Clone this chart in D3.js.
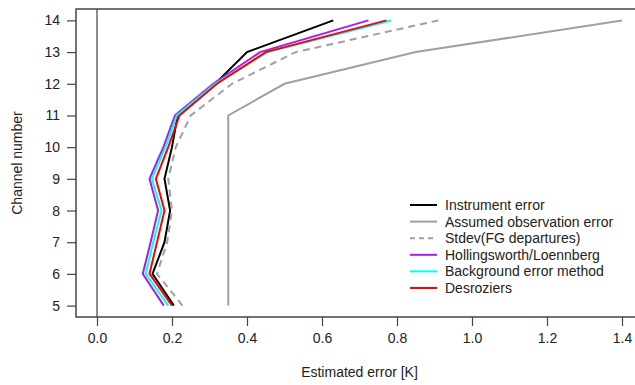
<!DOCTYPE html>
<html>
<head>
<meta charset="utf-8">
<script src="https://cdn.jsdelivr.net/npm/d3@7"></script>
<style>
  body { margin: 0; background: #fff; }
  svg text { font-family: "Liberation Sans", Arial, Helvetica, sans-serif; fill: #222; }
</style>
</head>
<body>
<svg id="chart"></svg>
<script>
// channel numbers (y) and estimated errors in K (x)
const channels = [5, 6, 7, 8, 9, 10, 11, 12, 13, 14];
const instrumentError = [0.205, 0.148, 0.18, 0.195, 0.18, 0.20, 0.215, 0.315, 0.40, 0.63];
const assumedObsError = [0.35, 0.35, 0.35, 0.35, 0.35, 0.35, 0.35, 0.50, 0.85, 1.40];
const stdevFG = [0.228, 0.16, 0.187, 0.20, 0.19, 0.21, 0.25, 0.36, 0.53, 0.91];
const hollingsworth = [0.178, 0.122, 0.143, 0.163, 0.14, 0.177, 0.208, 0.31, 0.435, 0.724];
const backgroundMethod = [0.19, 0.13, 0.15, 0.172, 0.146, 0.183, 0.213, 0.315, 0.455, 0.784];
const desroziers = [0.20, 0.14, 0.16, 0.18, 0.157, 0.19, 0.22, 0.32, 0.45, 0.772];

const xTicks = [0, 0.2, 0.4, 0.6, 0.8, 1.0, 1.2, 1.4];
const yTicks = [5, 6, 7, 8, 9, 10, 11, 12, 13, 14];

const series = [
  { name: "Instrument error", values: instrumentError, color: "#000000", dash: null },
  { name: "Assumed observation error", values: assumedObsError, color: "#a0a0a0", dash: null },
  { name: "Stdev(FG departures)", values: stdevFG, color: "#a0a0a0", dash: "7,5" },
  { name: "Hollingsworth/Loennberg", values: hollingsworth, color: "#a020f0", dash: null },
  { name: "Background error method", values: backgroundMethod, color: "#00ffff", dash: null },
  { name: "Desroziers", values: desroziers, color: "#ff0000", dash: null }
];

const width = 635, height = 385;
const plot = { left: 76, top: 9, right: 643, bottom: 317 };

const svg = d3.select("#chart")
  .attr("width", width)
  .attr("height", height);

// R style 4% axis extension
const xScale = d3.scaleLinear()
  .domain([-0.056, 1.456])
  .range([plot.left, plot.right]);

const yScale = d3.scaleLinear()
  .domain([4.64, 14.36])
  .range([plot.bottom, plot.top]);

// vertical line at zero
svg.append("line")
  .attr("x1", xScale(0)).attr("x2", xScale(0))
  .attr("y1", plot.top).attr("y2", plot.bottom)
  .attr("stroke", "#666")
  .attr("stroke-width", 1.5);

const line = d3.line()
  .x(d => xScale(d.v))
  .y(d => yScale(d.c));

series.forEach(s => {
  const pts = channels.map((c, i) => ({ c: c, v: s.values[i] }));
  svg.append("path")
    .datum(pts)
    .attr("fill", "none")
    .attr("stroke", s.color)
    .attr("stroke-width", 2)
    .attr("stroke-dasharray", s.dash)
    .attr("d", line);
});

// box
svg.append("rect")
  .attr("x", plot.left)
  .attr("y", plot.top)
  .attr("width", plot.right - plot.left)
  .attr("height", plot.bottom - plot.top)
  .attr("fill", "none")
  .attr("stroke", "#444")
  .attr("stroke-width", 1.5);

// x axis
const xAxis = svg.append("g")
  .attr("transform", `translate(0,${plot.bottom})`)
  .call(d3.axisBottom(xScale).tickValues(xTicks).tickFormat(d3.format(".1f")).tickSize(9).tickPadding(7));
xAxis.select(".domain").remove();
xAxis.selectAll("line").attr("stroke", "#444").attr("stroke-width", 1.2);
xAxis.selectAll("text").style("font-size", "14px").attr("fill", "#222");

// y axis
const yAxis = svg.append("g")
  .attr("transform", `translate(${plot.left},0)`)
  .call(d3.axisLeft(yScale).tickValues(yTicks).tickSize(9).tickPadding(7));
yAxis.select(".domain").remove();
yAxis.selectAll("line").attr("stroke", "#444").attr("stroke-width", 1.2);
yAxis.selectAll("text").style("font-size", "14px").attr("fill", "#222");

// axis titles
svg.append("text")
  .attr("x", (plot.left + plot.right) / 2)
  .attr("y", 377)
  .attr("text-anchor", "middle")
  .style("font-size", "14px")
  .text("Estimated error [K]");

svg.append("text")
  .attr("transform", `translate(22,${(plot.top + plot.bottom) / 2}) rotate(-90)`)
  .attr("text-anchor", "middle")
  .style("font-size", "14px")
  .text("Channel number");

// legend
const legend = svg.append("g")
  .attr("transform", "translate(410,205)");

const legendRow = legend.selectAll("g")
  .data(series)
  .enter().append("g")
  .attr("transform", (d, i) => `translate(0,${i * 16.6})`);

legendRow.append("line")
  .attr("x1", 0).attr("x2", 27)
  .attr("stroke", d => d.color)
  .attr("stroke-width", 2)
  .attr("stroke-dasharray", d => d.dash ? "5,4" : null);

legendRow.append("text")
  .attr("x", 35)
  .attr("dy", "0.35em")
  .style("font-size", "14px")
  .text(d => d.name);
</script>
</body>
</html>
